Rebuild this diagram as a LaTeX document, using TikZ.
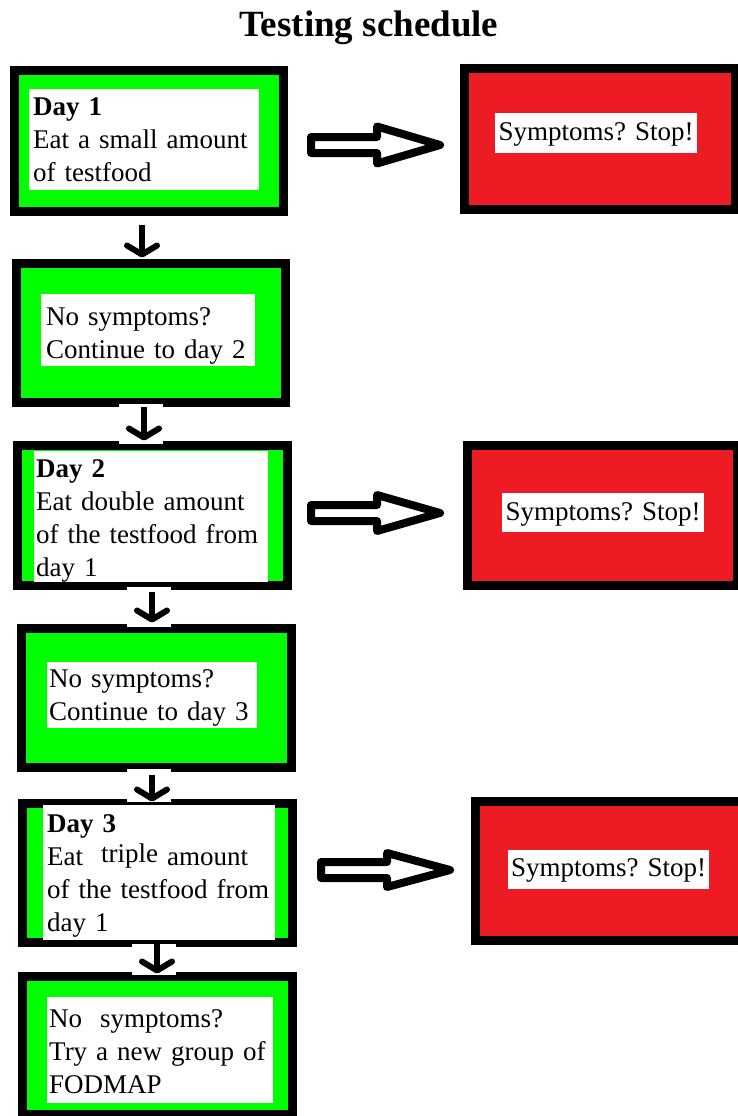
\documentclass[tikz,border=0pt]{standalone}
\usepackage{fontspec}
\setmainfont{Liberation Serif}
\usetikzlibrary{arrows.meta,calc}

\definecolor{boxgreen}{RGB}{0,255,0}
\definecolor{stopred}{RGB}{237,28,36}

\tikzset{
  greenbox/.style={draw=black, line width=9pt, fill=boxgreen, inner sep=0pt, outer sep=0pt},
  redbox/.style={draw=black, line width=9pt, fill=stopred, inner sep=0pt, outer sep=0pt},
  daytext/.style={fill=white, anchor=base west, inner xsep=4pt, inner ysep=0pt, align=left,
    font=\fontsize{27pt}{33pt}\selectfont\frenchspacing},
  stoptext/.style={daytext, inner xsep=0pt, align=center},
  downarrow/.style={line width=6pt, -{Straight Barb[length=9pt, width=30pt, round]}},
  hollowarrow/.style={draw=black, fill=white, line width=8pt, line join=round}
}

\begin{document}
\begin{tikzpicture}[x=1pt, y=-1pt]
\useasboundingbox (0,0) rectangle (737,1116);

% Titolo
\node[font=\fontsize{37pt}{40pt}\selectfont\bfseries, anchor=base] (title) at (369,37) {Testing schedule};

% Caselle verdi (giorni)
\node[greenbox, minimum width=269pt, minimum height=141pt] (g1) at (149,141) {};
\node[greenbox, minimum width=269pt, minimum height=139pt] (g2) at (151,333) {};
\node[greenbox, minimum width=270pt, minimum height=140pt] (g3) at (152.5,515.5) {};
\node[greenbox, minimum width=270pt, minimum height=139pt] (g4) at (156.5,698) {};
\node[greenbox, minimum width=270pt, minimum height=139pt] (g5) at (157.5,873) {};
\node[greenbox, minimum width=270pt, minimum height=138pt] (g6) at (157.5,1045.5) {};

% Caselle rosse (stop)
\node[redbox, minimum width=271pt, minimum height=141pt] (r1) at (600,139) {};
\node[redbox, minimum width=270pt, minimum height=140pt] (r2) at (602.5,515.5) {};
\node[redbox, minimum width=270pt, minimum height=139pt] (r3) at (610,871) {};

% Tagli bianchi nei bordi sotto le frecce
\foreach \a/\b/\dx in {g2/g3/-7, g3/g4/-0.5, g4/g5/-4.5, g5/g6/-0.5}
  \fill[white] ($(\a.south)+(\dx-25,1.5)$) rectangle ($(\a.south |- \b.north)+(\dx+19,-1.5)$);

% Frecce verso il basso
\foreach \a/\b/\dx/\s/\e in {g1/g2/-7/13pt/6pt, g2/g3/-7/4pt/5pt, g3/g4/-0.5/6pt/6pt,
                            g4/g5/-4.5/7pt/2pt, g5/g6/-0.5/1pt/3pt}
  \draw[downarrow, shorten <=\s, shorten >=\e] ($(\a.south)+(\dx,0)$) -- ($(\a.south |- \b.north)+(\dx,0)$);

% Frecce vuote verso destra
\foreach \x/\y/\h in {311/145/18.5, 311/513/18, 321/870/17} {
  \draw[hollowarrow] (\x,\y-8) -- (\x+66,\y-8) -- (\x+66,\y-\h) -- (\x+129,\y)
    -- (\x+66,\y+\h) -- (\x+66,\y+8) -- (\x,\y+8) -- cycle;
}

% Testi
\node[daytext, text width=222pt, text height=26pt, text depth=75pt] (t1) at (29,115)
  {\textbf{Day 1}\\Eat a small amount\\of testfood};
\node[daytext, inner xsep=5pt, text width=204pt, text height=31pt, text depth=41pt] (t2) at (41,325)
  {No symptoms?\\Continue to day 2};
\node[daytext, inner xsep=2pt, text width=230pt, text height=26pt, text depth=105pt] (t3) at (34,477)
  {\textbf{Day 2}\\Eat double amount\\of the testfood from\\day 1};
\node[daytext, inner xsep=2pt, text width=206pt, text height=25pt, text depth=41pt] (t4) at (47,687)
  {No symptoms?\\Continue to day 3};
\node[daytext, text width=224pt, text height=27pt, text depth=108pt] (t5) at (43,832)
  {\textbf{Day 3}\\Eat\ \ \raisebox{3pt}{triple} amount\\of the testfood from\\day 1};
\node[daytext, inner xsep=2pt, text width=222pt, text height=30pt, text depth=76pt] (t6) at (47,1027)
  {No\ \ symptoms?\\Try a new group of\\FODMAP};

\node[stoptext, text width=202pt, text height=27pt, text depth=13pt] (s1) at (495,140) {Symptoms? Stop!};
\node[stoptext, text width=202pt, text height=27pt, text depth=12pt] (s2) at (502,520) {Symptoms? Stop!};
\node[stoptext, text width=201pt, text height=26pt, text depth=13pt] (s3) at (508,876) {Symptoms? Stop!};

\end{tikzpicture}
\end{document}
